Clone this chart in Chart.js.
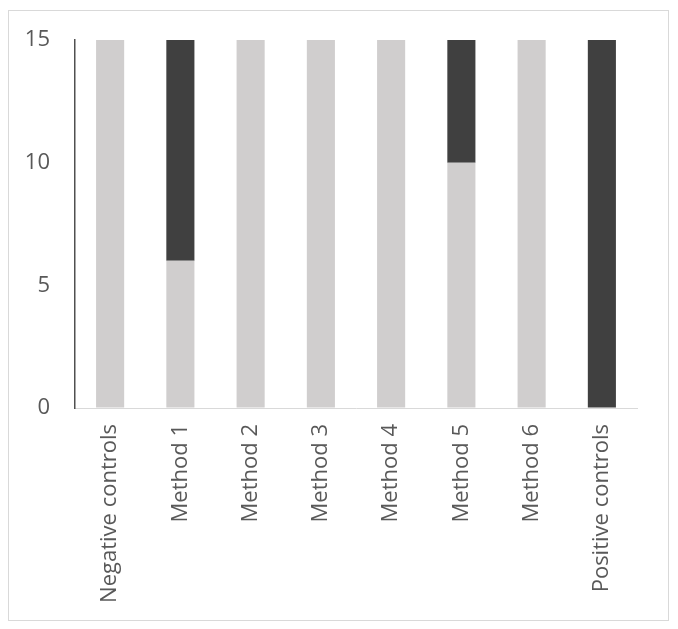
<html>
  <head>
    <title>Methods</title>
    <script src="https://cdn.jsdelivr.net/npm/chart.js@4/dist/chart.umd.min.js"></script>
    <style>
      body{
        margin:0;
        background:#fff;
      }
      #wrap{
        position:relative;
        width:678px;
        height:629px;
      }
    </style>
  </head>
  <body>
    <div id="wrap"><canvas id="bar-chart" width="678" height="629"></canvas></div>
  </body>
  <script>
    var categories = ["Negative controls", "Method 1", "Method 2", "Method 3", "Method 4", "Method 5", "Method 6", "Positive controls"];
    var lightValues = [15, 6, 15, 15, 15, 10, 15, 0];
    var darkValues = [0, 9, 0, 0, 0, 5, 0, 15];
    var yTicks = [0, 5, 10, 15];

    // outer frame like the spreadsheet chart box
    var frame = {
      id: 'frame',
      beforeDraw: function(chart){
        var ctx = chart.ctx;
        ctx.save();
        ctx.fillStyle = '#fff';
        ctx.fillRect(0, 0, chart.width, chart.height);
        ctx.strokeStyle = '#d9d9d9';
        ctx.lineWidth = 1;
        ctx.strokeRect(8.5, 10.5, 660, 610);
        ctx.restore();
      }
    };

    new Chart(document.getElementById("bar-chart"), {
      type: 'bar',
      data: {
        labels: categories,
        datasets: [
          {label: "light", data: lightValues, backgroundColor: "#d0cece", categoryPercentage: 1, barPercentage: 0.4},
          {label: "dark", data: darkValues, backgroundColor: "#404040", categoryPercentage: 1, barPercentage: 0.4}
        ]
      },
      options: {
        responsive: false,
        animation: false,
        layout: {padding: {top: 40, right: 41, left: 0, bottom: 0}},
        plugins: {legend: {display: false}, tooltip: {enabled: false}},
        scales: {
          x: {
            stacked: true,
            grid: {drawOnChartArea: false, drawTicks: false},
            border: {display: true, color: '#d9d9d9', width: 1},
            ticks: {
              minRotation: 90, maxRotation: 90, padding: 16,
              color: '#595959', font: {family: 'Open Sans', size: 22}
            },
            afterFit: function(scale){ scale.height = 221; }
          },
          y: {
            stacked: true,
            min: 0, max: 15,
            afterBuildTicks: function(scale){ scale.ticks = yTicks.map(function(v){ return {value: v}; }); },
            grid: {drawOnChartArea: false, drawTicks: false},
            border: {display: true, color: '#505050', width: 1.5},
            ticks: {
              padding: 25,
              color: '#595959', font: {family: 'Open Sans', size: 22}
            },
            afterFit: function(scale){ scale.width = 75; }
          }
        }
      },
      plugins: [frame]
    });
  </script>
</html>
